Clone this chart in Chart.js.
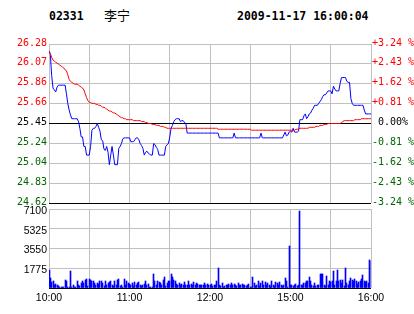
<!DOCTYPE html>
<html>
<head>
<meta charset="utf-8">
<script src="https://cdn.jsdelivr.net/npm/chart.js"></script>
<style>
  html, body { margin: 0; padding: 0; background: #fff; }
  #wrap { position: relative; width: 414px; height: 314px; overflow: hidden; }
  canvas { position: absolute; left: 0; }
  .t { position: absolute; white-space: pre; color: #000; }
  .mono { font: bold 11.5px "DejaVu Sans Mono", monospace; line-height: 1; }
  .cjk { font: 13px "Noto Sans CJK SC", sans-serif; line-height: 1; }
</style>
</head>
<body>
<div id="wrap">
  <div class="t mono" id="code" style="left:49px; top:11px"></div>
  <div class="t cjk" id="name" style="left:104px; top:8px"></div>
  <div class="t mono" id="stamp" style="left:237px; top:11px"></div>
  <canvas id="priceChart" width="414" height="214" style="top:0"></canvas>
  <canvas id="volChart" width="414" height="114" style="top:200px"></canvas>
</div>
<script>
const stockCode = '02331';
const stockName = '李宁';
const stamp = '2009-11-17 16:00:04';
const prevClose = 25.45;

// tick labels, bottom to top
const priceLabels = ['24.62', '24.83', '25.04', '25.24', '25.45', '25.66', '25.86', '26.07', '26.28'];
const pctLabels = ['-3.24 %', '-2.43 %', '-1.62 %', '-0.81 %', ' 0.00%', '+0.81 %', '+1.62 %', '+2.43 %', '+3.24 %'];
const volLabels = ['', '1775', '3550', '5325', '7100'];
const timeTicks = [0, 60, 120, 180, 240];
const timeLabels = ['10:00', '11:00', '12:00', '15:00', '16:00'];

// one value per minute, 10:00-12:30 then 14:30-16:00
const price = [
  26.21, 26.17, 25.95, 25.82, 25.80, 25.78, 25.83, 25.85, 25.85, 25.85,
  25.85, 25.85, 25.85, 25.76, 25.66, 25.59, 25.54, 25.50, 25.50, 25.50,
  25.50, 25.50, 25.47, 25.40, 25.31, 25.31, 25.21, 25.21, 25.12, 25.12,
  25.12, 25.21, 25.38, 25.40, 25.40, 25.42, 25.45, 25.41, 25.37, 25.28,
  25.27, 25.18, 25.17, 25.21, 25.15, 25.02, 25.12, 25.21, 25.12, 25.02,
  25.02, 25.02, 25.19, 25.21, 25.24, 25.29, 25.30, 25.30, 25.30, 25.30,
  25.30, 25.26, 25.26, 25.26, 25.28, 25.30, 25.30, 25.28, 25.24, 25.22,
  25.19, 25.12, 25.15, 25.16, 25.14, 25.13, 25.12, 25.12, 25.24, 25.23,
  25.20, 25.18, 25.12, 25.12, 25.12, 25.12, 25.12, 25.21, 25.23, 25.24,
  25.31, 25.40, 25.43, 25.47, 25.49, 25.50, 25.50, 25.50, 25.47, 25.48,
  25.48, 25.46, 25.45, 25.35, 25.35, 25.35, 25.35, 25.35, 25.35, 25.35,
  25.35, 25.35, 25.35, 25.35, 25.35, 25.35, 25.35, 25.35, 25.35, 25.35,
  25.35, 25.35, 25.35, 25.35, 25.35, 25.35, 25.35, 25.30, 25.30, 25.30,
  25.30, 25.30, 25.30, 25.30, 25.30, 25.30, 25.30, 25.30, 25.35, 25.30,
  25.30, 25.30, 25.30, 25.30, 25.30, 25.30, 25.30, 25.30, 25.30, 25.30,
  25.30, 25.30, 25.30, 25.30, 25.30, 25.30, 25.30, 25.30, 25.35, 25.30,
  25.30, 25.30, 25.30, 25.30, 25.30, 25.30, 25.30, 25.30, 25.30, 25.30,
  25.30, 25.30, 25.30, 25.30, 25.30, 25.33, 25.36, 25.32, 25.33, 25.36,
  25.37, 25.36, 25.40, 25.36, 25.36, 25.36, 25.37, 25.49, 25.49, 25.49,
  25.53, 25.55, 25.50, 25.52, 25.55, 25.56, 25.59, 25.61, 25.64, 25.64,
  25.64, 25.66, 25.68, 25.70, 25.73, 25.75, 25.75, 25.77, 25.79, 25.79,
  25.79, 25.76, 25.84, 25.81, 25.79, 25.79, 25.79, 25.87, 25.93, 25.93,
  25.93, 25.93, 25.89, 25.88, 25.88, 25.71, 25.66, 25.64, 25.64, 25.64,
  25.64, 25.64, 25.64, 25.64, 25.64, 25.59, 25.55, 25.55, 25.55, 25.55,
  25.55
];

const avgPrice = [
  26.21, 26.18, 26.14, 26.11, 26.10, 26.09, 26.08, 26.07, 26.06, 26.05,
  26.04, 26.03, 26.01, 26.00, 25.96, 25.91, 25.89, 25.88, 25.87, 25.86,
  25.86, 25.86, 25.85, 25.84, 25.83, 25.82, 25.80, 25.76, 25.72, 25.69,
  25.67, 25.67, 25.66, 25.66, 25.66, 25.65, 25.65, 25.64, 25.64, 25.63,
  25.62, 25.62, 25.61, 25.60, 25.59, 25.58, 25.58, 25.57, 25.56, 25.56,
  25.55, 25.54, 25.53, 25.52, 25.51, 25.51, 25.50, 25.50, 25.49, 25.49,
  25.49, 25.49, 25.49, 25.48, 25.48, 25.48, 25.48, 25.48, 25.48, 25.47,
  25.47, 25.47, 25.46, 25.46, 25.45, 25.45, 25.45, 25.44, 25.44, 25.44,
  25.43, 25.43, 25.43, 25.42, 25.42, 25.42, 25.41, 25.41, 25.40, 25.40,
  25.40, 25.40, 25.40, 25.40, 25.40, 25.40, 25.40, 25.40, 25.40, 25.40,
  25.40, 25.40, 25.40, 25.40, 25.40, 25.40, 25.40, 25.40, 25.40, 25.40,
  25.40, 25.40, 25.40, 25.40, 25.40, 25.40, 25.40, 25.40, 25.40, 25.40,
  25.40, 25.40, 25.40, 25.40, 25.40, 25.40, 25.39, 25.39, 25.39, 25.39,
  25.39, 25.39, 25.39, 25.39, 25.39, 25.39, 25.39, 25.39, 25.39, 25.39,
  25.39, 25.39, 25.39, 25.39, 25.39, 25.39, 25.39, 25.39, 25.39, 25.39,
  25.39, 25.38, 25.38, 25.38, 25.38, 25.38, 25.38, 25.38, 25.38, 25.38,
  25.38, 25.38, 25.38, 25.38, 25.38, 25.38, 25.38, 25.38, 25.38, 25.38,
  25.38, 25.38, 25.38, 25.38, 25.38, 25.38, 25.38, 25.38, 25.38, 25.38,
  25.38, 25.38, 25.38, 25.38, 25.39, 25.39, 25.39, 25.40, 25.40, 25.40,
  25.40, 25.40, 25.40, 25.40, 25.41, 25.41, 25.41, 25.41, 25.41, 25.42,
  25.42, 25.42, 25.43, 25.43, 25.43, 25.44, 25.44, 25.44, 25.45, 25.45,
  25.45, 25.45, 25.45, 25.45, 25.45, 25.45, 25.45, 25.45, 25.46, 25.47,
  25.48, 25.48, 25.48, 25.48, 25.48, 25.48, 25.48, 25.48, 25.49, 25.49,
  25.49, 25.49, 25.49, 25.50, 25.50, 25.50, 25.50, 25.50, 25.50, 25.50,
  25.50
];

const volume = [
  1650, 900, 540, 600, 300, 390, 300, 210, 90, 60,
  60, 90, 750, 600, 60, 90, 1560, 60, 300, 90,
  60, 600, 300, 150, 450, 660, 450, 750, 810, 150,
  810, 750, 660, 600, 450, 300, 450, 390, 600, 600,
  450, 150, 600, 300, 450, 540, 660, 240, 150, 660,
  300, 750, 810, 150, 300, 120, 840, 300, 660, 450,
  360, 240, 450, 150, 510, 300, 450, 570, 300, 210,
  300, 360, 600, 240, 360, 90, 60, 120, 1290, 600,
  300, 600, 540, 450, 300, 750, 990, 150, 450, 600,
  660, 1290, 960, 750, 600, 360, 300, 450, 300, 390,
  300, 510, 300, 300, 600, 300, 360, 240, 510, 300,
  450, 360, 300, 300, 300, 300, 450, 300, 390, 300,
  300, 360, 150, 300, 300, 600, 1800, 300, 150, 450,
  120, 150, 300, 300, 360, 300, 450, 300, 360, 300,
  150, 450, 300, 300, 360, 300, 300, 150, 300, 360,
  90, 120, 990, 450, 150, 300, 600, 150, 450, 600,
  300, 510, 300, 450, 300, 150, 600, 300, 150, 510,
  450, 300, 510, 300, 150, 300, 900, 600, 120, 3810,
  300, 300, 210, 300, 360, 150, 300, 6960, 300, 300,
  450, 450, 600, 660, 990, 660, 300, 210, 450, 150,
  300, 300, 1290, 1260, 1290, 300, 150, 1050, 300, 600,
  510, 600, 1560, 300, 600, 1650, 600, 750, 450, 750,
  150, 1800, 450, 300, 600, 900, 750, 600, 810, 600,
  360, 510, 600, 840, 1200, 600, 510, 600, 450, 2550,
  2400
];

document.getElementById('code').textContent = stockCode;
document.getElementById('name').textContent = stockName;
document.getElementById('stamp').textContent = stamp;

const GRID = '#c0c0c0';
const UP = '#ff0000';
const DOWN = '#006600';
const mono = { family: 'DejaVu Sans Mono', size: 10 };
const sans = { family: 'Liberation Sans', size: 10.5 };

const pMin = parseFloat(priceLabels[0]);
const pMax = parseFloat(priceLabels[priceLabels.length - 1]);
const pSteps = priceLabels.length - 1;
const lastMinute = timeTicks[timeTicks.length - 1];

function priceTicks(scale) {
  scale.ticks = priceLabels.map((_, i) => ({ value: pMin + i * (pMax - pMin) / pSteps }));
}
function sideColor(ctx) {
  const v = ctx.tick.value;
  if (Math.abs(v - prevClose) < 0.01) return '#000';
  return v > prevClose ? UP : DOWN;
}
const xy = arr => arr.map((v, i) => ({ x: i, y: v }));

new Chart(document.getElementById('priceChart'), {
  type: 'line',
  data: {
    datasets: [
      { data: xy(avgPrice), borderColor: UP, borderWidth: 1, pointRadius: 0, order: 0 },
      { data: xy(price), borderColor: '#0000ff', borderWidth: 1, pointRadius: 0, order: 1 }
    ]
  },
  options: {
    responsive: false,
    animation: false,
    events: [],
    layout: { padding: { top: 44, bottom: 11, left: 0, right: 0 } },
    plugins: { legend: { display: false }, tooltip: { enabled: false } },
    scales: {
      x: {
        type: 'linear', min: 0, max: lastMinute,
        ticks: { stepSize: 30, display: false },
        grid: { color: GRID, drawTicks: false },
        border: { display: false },
        afterFit: s => { s.height = 0; }
      },
      y: {
        position: 'left', min: pMin, max: pMax,
        afterBuildTicks: priceTicks,
        afterFit: s => { s.width = 49; },
        grid: {
          color: ctx => (ctx.index === 0 || Math.abs(ctx.tick.value - prevClose) < 0.01) ? '#000' : GRID,
          drawTicks: false
        },
        border: { display: false },
        ticks: {
          autoSkip: false, font: mono, padding: 2, labelOffset: -1,
          color: sideColor,
          callback: (v, i) => priceLabels[i]
        }
      },
      yPct: {
        position: 'right', min: pMin, max: pMax,
        afterBuildTicks: priceTicks,
        afterFit: s => { s.width = 43; },
        grid: { display: false, drawTicks: false },
        border: { display: false },
        ticks: {
          autoSkip: false, font: mono, padding: 1, labelOffset: -1,
          color: sideColor,
          callback: (v, i) => pctLabels[i]
        }
      }
    }
  }
});

const vMax = parseFloat(volLabels[volLabels.length - 1]);

const crispBars = {
  id: 'crispBars',
  beforeDatasetsDraw(chart) {
    chart.getDatasetMeta(0).data.forEach(bar => {
      bar.x = Math.round(bar.x - 0.5) + 0.5;
      bar.y = Math.round(bar.y);
    });
  }
};

new Chart(document.getElementById('volChart'), {
  type: 'bar',
  data: {
    datasets: [{
      data: xy(volume), backgroundColor: '#0000ff', borderWidth: 0, barThickness: 1
    }]
  },
  plugins: [crispBars],
  options: {
    responsive: false,
    animation: false,
    events: [],
    layout: { padding: { top: 9, bottom: 0, left: 0, right: 43 } },
    plugins: { legend: { display: false }, tooltip: { enabled: false } },
    scales: {
      x: {
        type: 'linear', min: 0, max: lastMinute, offset: false,
        grid: { color: GRID, drawTicks: false, offset: false },
        border: { display: false },
        afterFit: s => { s.height = 26; },
        ticks: {
          stepSize: 30, autoSkip: false, maxRotation: 0, font: sans, color: '#000', padding: 4,
          callback: v => {
            const k = timeTicks.indexOf(v);
            return k >= 0 ? timeLabels[k] : '';
          }
        }
      },
      y: {
        position: 'left', min: 0, max: vMax,
        afterBuildTicks: s => {
          s.ticks = volLabels.map((_, i) => ({ value: i * vMax / (volLabels.length - 1) }));
        },
        afterFit: s => { s.width = 49; },
        grid: { color: ctx => ctx.index === 0 ? '#000' : GRID, drawTicks: false },
        border: { display: false },
        ticks: {
          autoSkip: false, font: sans, color: '#000', padding: 2, labelOffset: 2,
          callback: (v, i) => volLabels[i]
        }
      }
    }
  }
});
</script>
</body>
</html>
